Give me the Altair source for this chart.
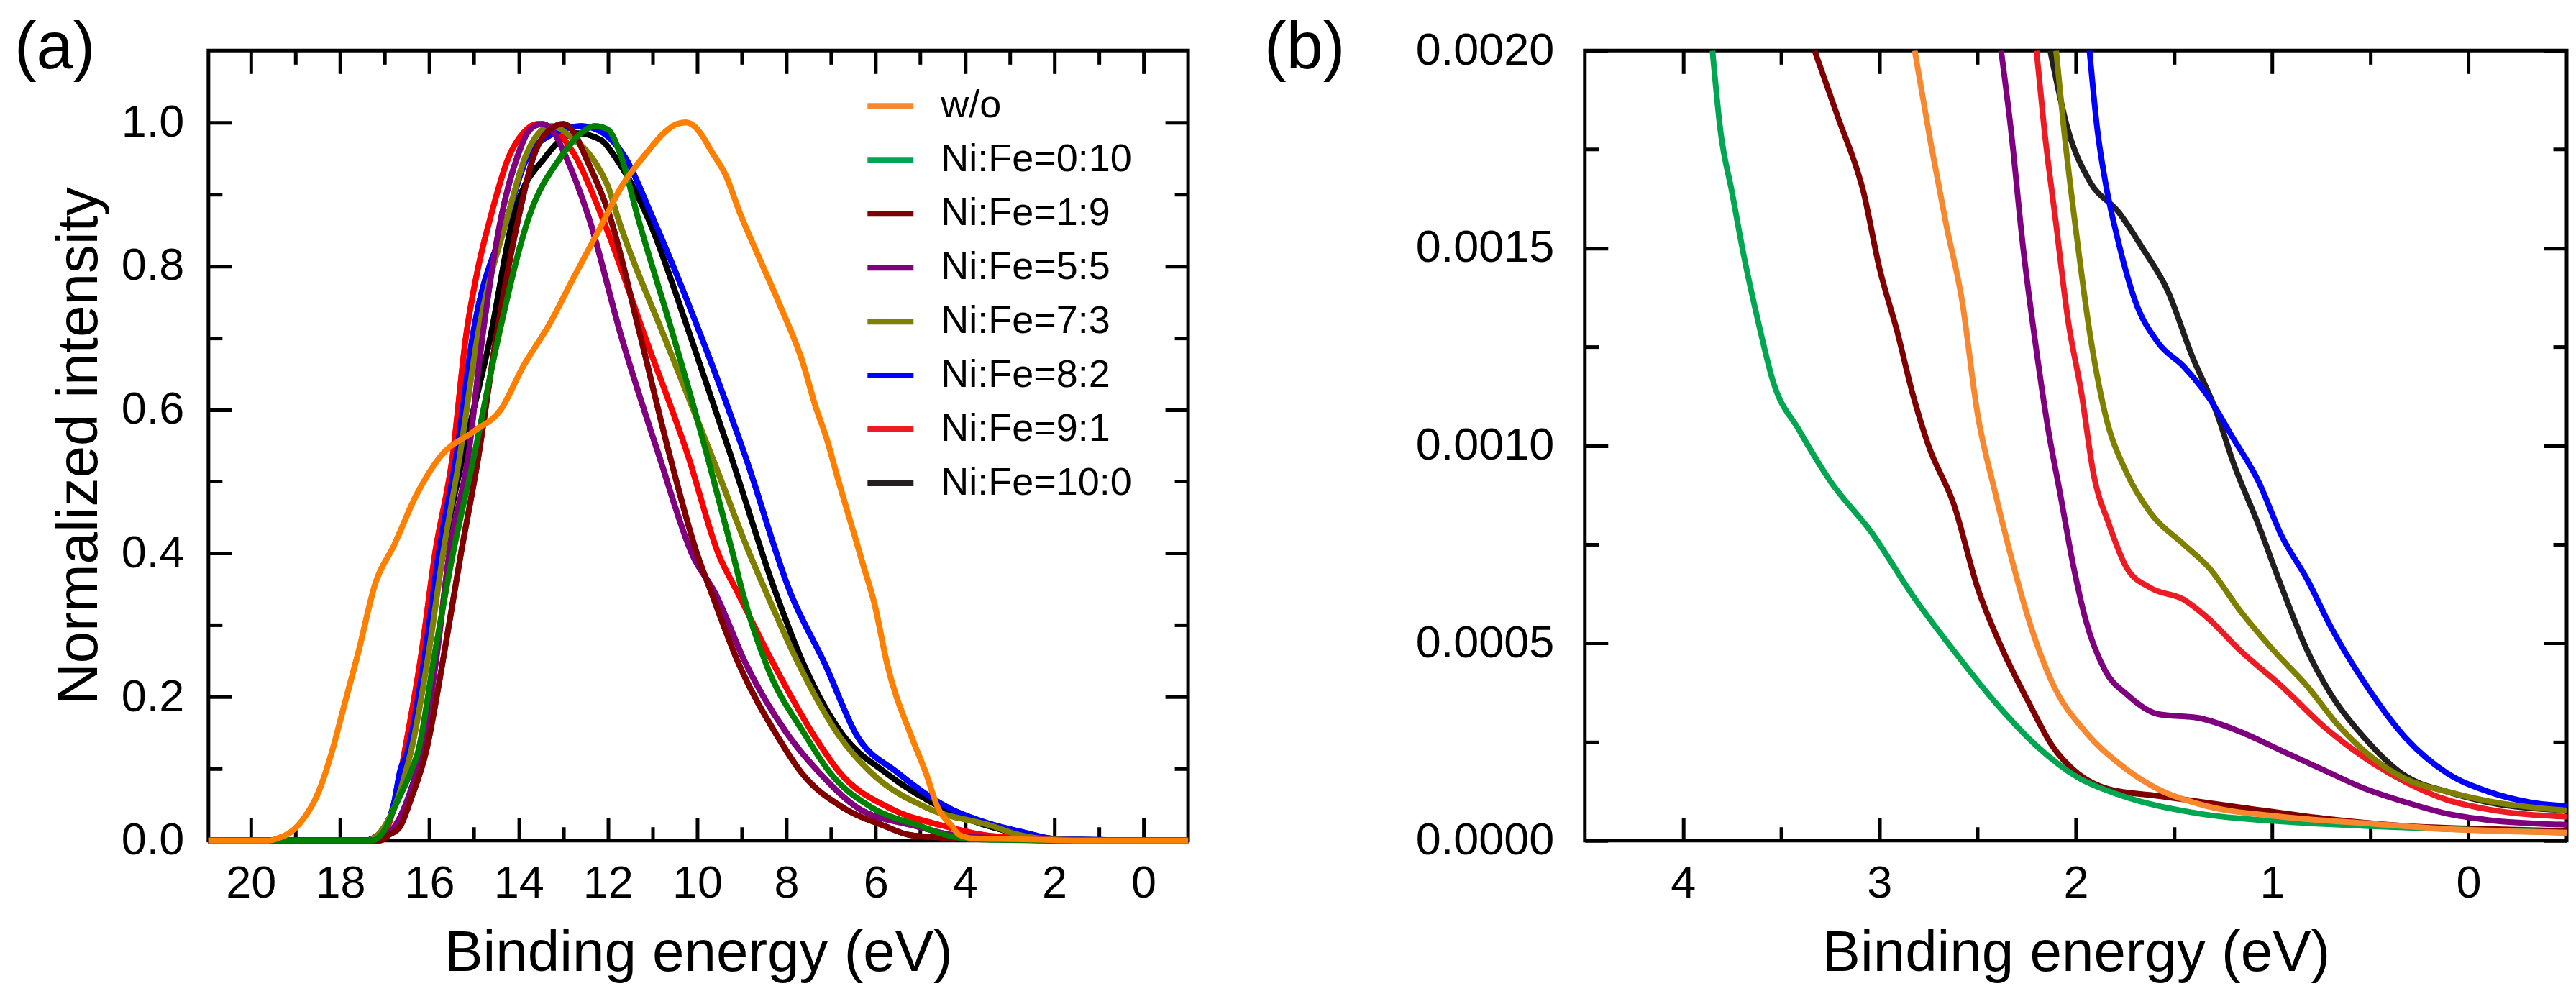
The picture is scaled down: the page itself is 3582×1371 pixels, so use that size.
import altair as alt
import pandas as pd

FONT = "Liberation Sans"

SERIES = ["w/o", "Ni:Fe=0:10", "Ni:Fe=1:9", "Ni:Fe=5:5", "Ni:Fe=7:3",
          "Ni:Fe=8:2", "Ni:Fe=9:1", "Ni:Fe=10:0"]
LINE_COLORS_A = ["#FF8000", "#008000", "#800000", "#800080", "#808000",
                 "#0000FF", "#FF0000", "#000000"]
LEGEND_COLORS = ["#F7882F", "#00A651", "#7F0000", "#7F007F", "#808000",
                 "#0000FF", "#ED1C24", "#231F20"]
DRAW_ORDER = list(reversed(SERIES))

# ---------------- panel (a): full spectra ----------------
A_WO_E = [20.95, 19.6, 19.4, 19.1, 18.8, 18.5, 18.2, 17.9, 17.6, 17.2, 16.8, 16.3, 15.75,
          15.0, 14.4, 13.9, 13.3, 12.8, 12.2, 11.7, 11.1, 10.75, 10.45, 10.25, 10.05, 9.85,
          9.73, 9.35, 9.03, 8.70, 8.17, 7.63, 7.36, 7.09, 6.83, 6.56, 6.29, 6.02, 5.74, 5.2,
          4.88, 4.6, 4.29, 4.13, 3.8, 2.82, 1.5, -1.0]
A_WO_I = [0, 0, 0.003, 0.012, 0.032, 0.065, 0.12, 0.19, 0.26, 0.36, 0.41, 0.48, 0.535,
          0.57, 0.60, 0.66, 0.72, 0.78, 0.85, 0.91, 0.96, 0.985, 0.998, 1.0, 0.994, 0.978,
          0.965, 0.925, 0.872, 0.824, 0.749, 0.665, 0.607, 0.558, 0.50, 0.443, 0.386, 0.328,
          0.245, 0.145, 0.095, 0.045, 0.02, 0.008, 0.003, 0.002, 0.0001, 0]

A_G_E = [20.95, 17.3, 17.0, 16.75, 16.4, 16.26, 15.88, 15.48, 15.0, 14.45, 13.77, 13.05,
         12.6, 12.3, 12.0, 11.7, 11.33, 10.53, 9.77, 9.19, 8.98, 8.45, 7.56, 7.03, 6.06,
         4.99, 4.45, 3.85, 3.0, 2.0, 0.5, -1.0]
A_G_I = [0, 0, 0.015, 0.05, 0.098, 0.122, 0.26, 0.397, 0.535, 0.702, 0.868, 0.952,
         0.985, 0.995, 0.99, 0.952, 0.868, 0.702, 0.535, 0.397, 0.345, 0.245, 0.145, 0.095,
         0.045, 0.02, 0.008, 0.002, 0.0008, 0.00016, 0.00004, 0]

A_DR_E = [20.95, 17.1, 16.9, 16.66, 16.4, 16.08, 15.67, 15.3, 14.9, 14.5, 14.0, 13.67,
          13.3, 12.99, 12.75, 12.5, 11.95, 11.27, 10.61, 9.99, 9.68, 9.06, 8.2, 7.67, 6.71,
          5.79, 5.26, 4.5, 3.33, 2.0, 0.5, -1.0]
A_DR_I = [0, 0, 0.008, 0.019, 0.06, 0.122, 0.26, 0.397, 0.535, 0.702, 0.868, 0.952,
          0.99, 0.998, 0.985, 0.952, 0.868, 0.702, 0.535, 0.397, 0.345, 0.245, 0.145, 0.095,
          0.045, 0.02, 0.008, 0.004, 0.002, 0.00016, 0.00004, 0]

A_P_E = [20.95, 17.2, 16.9, 16.6, 16.28, 16.18, 15.83, 15.56, 15.13, 14.81, 14.39, 14.03,
         13.75, 13.47, 13.2, 12.94, 12.43, 11.7, 10.85, 10.1, 9.6, 8.9, 7.94, 7.27, 6.39,
         5.1, 4.3, 3.5, 2.38, 1.5, 0.5, -0.5, -1.0]
A_P_I = [0, 0, 0.01, 0.04, 0.098, 0.122, 0.26, 0.397, 0.535, 0.702, 0.868, 0.952,
         0.99, 0.998, 0.985, 0.952, 0.868, 0.702, 0.535, 0.397, 0.345, 0.245, 0.145, 0.095,
         0.045, 0.02, 0.008, 0.004, 0.002, 0.0003, 0.00013, 0.00004, 0]

A_O_E = [20.95, 17.4, 17.0, 16.7, 16.52, 16.42, 16.02, 15.7, 15.32, 14.92, 14.25, 13.85,
         13.55, 13.26, 12.83, 12.24, 11.98, 11.78, 10.74, 9.67, 8.81, 8.45, 7.72, 6.81,
         6.11, 4.83, 3.38, 2.8, 2.1, 1.0, 0.0, -1.0]
A_O_I = [0, 0, 0.02, 0.06, 0.098, 0.122, 0.26, 0.397, 0.535, 0.702, 0.868, 0.952,
         0.985, 0.995, 0.98, 0.94, 0.908, 0.868, 0.702, 0.535, 0.397, 0.345, 0.245, 0.145,
         0.095, 0.045, 0.02, 0.008, 0.002, 0.0005, 0.00012, 0]

A_B_E = [20.95, 17.45, 17.1, 16.8, 16.65, 16.5, 16.1, 15.8, 15.4, 15.03, 14.25, 13.8,
         13.2, 12.6, 12.1, 11.62, 11.0, 9.91, 8.92, 7.91, 7.13, 6.41, 5.52, 4.35, 3.53,
         2.6, 2.2, 1.93, 1.0, 0.0, -1.0]
A_B_I = [0, 0, 0.01, 0.05, 0.098, 0.122, 0.26, 0.397, 0.535, 0.702, 0.868, 0.952,
         0.985, 0.995, 0.985, 0.952, 0.868, 0.702, 0.535, 0.345, 0.245, 0.145, 0.095,
         0.045, 0.025, 0.01, 0.004, 0.002, 0.0009, 0.00017, 0]

A_R_E = [20.95, 17.35, 17.0, 16.8, 16.56, 16.18, 15.88, 15.48, 15.18, 14.9, 14.63, 14.22,
         13.9, 13.58, 13.2, 12.72, 12.13, 11.17, 10.2, 9.51, 9.09, 8.28, 7.37, 6.81, 5.68,
         4.45, 3.5, 2.2, 1.0, 0.0, -1.0]
A_R_I = [0, 0, 0.012, 0.045, 0.122, 0.26, 0.397, 0.535, 0.702, 0.80, 0.868, 0.952,
         0.985, 0.998, 0.99, 0.952, 0.868, 0.702, 0.535, 0.397, 0.345, 0.245, 0.145, 0.095,
         0.045, 0.02, 0.007, 0.002, 0.0004, 0.0001, 0]

A_K_E = [20.95, 17.45, 17.1, 16.8, 16.45, 16.05, 15.7, 15.25, 14.63, 14.12, 13.4, 13.0,
         12.7, 12.14, 11.84, 11.11, 10.15, 9.24, 8.24, 7.61, 6.71, 5.79, 4.5, 3.36, 2.7,
         2.13, 1.0, 0.0, -1.0]
A_K_I = [0, 0, 0.01, 0.045, 0.12, 0.26, 0.397, 0.535, 0.702, 0.868, 0.952, 0.978,
         0.985, 0.975, 0.952, 0.868, 0.702, 0.535, 0.345, 0.245, 0.145, 0.095, 0.045,
         0.018, 0.008, 0.002, 0.0007, 0.00013, 0]

# ---------------- panel (b): low-intensity tail ----------------
B_WO_E = [2.82, 2.74, 2.66, 2.58, 2.50, 2.41, 2.33, 2.24, 2.12, 1.95, 1.78, 1.58, 1.37,
          0.95, 0.53, 0.11, -0.5]
B_WO_I = [20e-4, 17.7e-4, 15.6e-4, 13.7e-4, 10.8e-4, 8.8e-4, 7.2e-4, 5.6e-4, 4.0e-4,
          2.75e-4, 1.95e-4, 1.3e-4, 0.92e-4, 0.6e-4, 0.44e-4, 0.29e-4, 0.2e-4]

B_G_E = [3.85, 3.81, 3.75, 3.69, 3.62, 3.54, 3.41, 3.25, 3.04, 2.83, 2.62, 2.41, 2.20,
         1.99, 1.78, 1.37, 0.95, 0.53, 0.11, -0.5]
B_G_I = [20e-4, 18e-4, 16.4e-4, 14.8e-4, 13.2e-4, 11.6e-4, 10.4e-4, 9.1e-4, 7.8e-4,
         6.2e-4, 4.8e-4, 3.5e-4, 2.4e-4, 1.6e-4, 1.16e-4, 0.68e-4, 0.48e-4, 0.37e-4,
         0.29e-4, 0.2e-4]

B_DR_E = [3.33, 3.21, 3.08, 3.00, 2.91, 2.83, 2.75, 2.62, 2.50, 2.37, 2.24, 2.12, 1.99,
          1.83, 1.58, 1.16, 0.74, 0.32, -0.1, -0.5]
B_DR_I = [20e-4, 18.3e-4, 16.4e-4, 14.5e-4, 12.9e-4, 11.3e-4, 10.0e-4, 8.5e-4, 6.4e-4,
          4.8e-4, 3.5e-4, 2.4e-4, 1.7e-4, 1.3e-4, 1.13e-4, 0.84e-4, 0.56e-4, 0.37e-4,
          0.29e-4, 0.24e-4]

B_P_E = [2.38, 2.33, 2.27, 2.20, 2.14, 2.08, 2.01, 1.95, 1.85, 1.74, 1.58, 1.37, 1.16,
         0.95, 0.74, 0.53, 0.32, 0.11, -0.1, -0.5]
B_P_I = [20e-4, 18e-4, 15.1e-4, 12.4e-4, 10.4e-4, 8.8e-4, 6.9e-4, 5.6e-4, 4.3e-4,
         3.7e-4, 3.2e-4, 3.1e-4, 2.75e-4, 2.27e-4, 1.79e-4, 1.32e-4, 0.97e-4, 0.68e-4,
         0.52e-4, 0.4e-4]

B_O_E = [2.10, 2.06, 1.99, 1.93, 1.85, 1.74, 1.62, 1.45, 1.32, 1.16, 0.99, 0.82, 0.66,
         0.49, 0.32, 0.11, -0.1, -0.5]
B_O_I = [20e-4, 18e-4, 15.1e-4, 12.9e-4, 10.8e-4, 9.3e-4, 8.3e-4, 7.5e-4, 6.9e-4,
         5.8e-4, 4.8e-4, 3.9e-4, 2.9e-4, 2.1e-4, 1.56e-4, 1.24e-4, 1.0e-4, 0.76e-4]

B_B_E = [1.93, 1.89, 1.85, 1.78, 1.70, 1.58, 1.45, 1.32, 1.20, 1.07, 0.95, 0.82, 0.70,
         0.53, 0.32, 0.11, -0.1, -0.31, -0.5]
B_B_I = [20e-4, 18e-4, 16.7e-4, 15.1e-4, 13.7e-4, 12.6e-4, 12.0e-4, 11.2e-4, 10.2e-4,
         9.1e-4, 7.7e-4, 6.6e-4, 5.4e-4, 4.0e-4, 2.6e-4, 1.71e-4, 1.24e-4, 0.97e-4, 0.87e-4]

B_R_E = [2.20, 2.16, 2.10, 2.04, 1.97, 1.91, 1.83, 1.74, 1.62, 1.45, 1.32, 1.16, 0.95,
         0.74, 0.53, 0.32, 0.11, -0.1, -0.5]
B_R_I = [20e-4, 18e-4, 15.6e-4, 13.2e-4, 11.3e-4, 9.3e-4, 8.0e-4, 6.9e-4, 6.4e-4,
         6.1e-4, 5.6e-4, 4.8e-4, 3.9e-4, 2.9e-4, 2.1e-4, 1.48e-4, 1.03e-4, 0.79e-4, 0.6e-4]

B_K_E = [2.13, 2.04, 1.93, 1.78, 1.66, 1.53, 1.41, 1.28, 1.20, 1.07, 0.95, 0.82, 0.70,
         0.53, 0.32, 0.11, -0.1, -0.5]
B_K_I = [20e-4, 18e-4, 16.7e-4, 15.9e-4, 15.0e-4, 13.9e-4, 12.3e-4, 10.8e-4, 9.6e-4,
         8.0e-4, 6.4e-4, 4.8e-4, 3.7e-4, 2.6e-4, 1.63e-4, 1.24e-4, 0.97e-4, 0.76e-4]

# ticks
A_X_MAJOR = [20, 18, 16, 14, 12, 10, 8, 6, 4, 2, 0]
A_X_MINOR = [19, 17, 15, 13, 11, 9, 7, 5, 3, 1]
A_Y_MAJOR = [0.0, 0.2, 0.4, 0.6, 0.8, 1.0]
A_Y_MINOR = [0.1, 0.3, 0.5, 0.7, 0.9]
B_X_MAJOR = [4, 3, 2, 1, 0]
B_X_MINOR = [3.5, 2.5, 1.5, 0.5]
B_Y_MAJOR = [0.0, 0.0005, 0.0010, 0.0015, 0.0020]
B_Y_MINOR = [0.00025, 0.00075, 0.00125, 0.00175]

A_SERIES = {
    "w/o": (A_WO_E, A_WO_I), "Ni:Fe=0:10": (A_G_E, A_G_I), "Ni:Fe=1:9": (A_DR_E, A_DR_I),
    "Ni:Fe=5:5": (A_P_E, A_P_I), "Ni:Fe=7:3": (A_O_E, A_O_I), "Ni:Fe=8:2": (A_B_E, A_B_I),
    "Ni:Fe=9:1": (A_R_E, A_R_I), "Ni:Fe=10:0": (A_K_E, A_K_I),
}
B_SERIES = {
    "w/o": (B_WO_E, B_WO_I), "Ni:Fe=0:10": (B_G_E, B_G_I), "Ni:Fe=1:9": (B_DR_E, B_DR_I),
    "Ni:Fe=5:5": (B_P_E, B_P_I), "Ni:Fe=7:3": (B_O_E, B_O_I), "Ni:Fe=8:2": (B_B_E, B_B_I),
    "Ni:Fe=9:1": (B_R_E, B_R_I), "Ni:Fe=10:0": (B_K_E, B_K_I),
}


def to_frame(series):
    rows = []
    for name in DRAW_ORDER:
        es, ys = series[name]
        for e, y in zip(es, ys):
            rows.append({"E": e, "I": y, "series": name})
    return pd.DataFrame(rows)


DF_A = to_frame(A_SERIES)
DF_B = to_frame(B_SERIES)

LINE_W = 8
TICK_W = 5
MAJOR = 32
MINOR = 19


def tick_axis(orient, values, size):
    return alt.Axis(orient=orient, values=values, labels=False, domain=False, grid=False,
                    ticks=True, tickSize=size, tickWidth=TICK_W, tickColor="black",
                    offset=-size, title=None)


def label_axis(orient, values, fmt, pad, title, title_pad):
    return alt.Axis(orient=orient, values=values, format=fmt, ticks=False, tickSize=0,
                    domain=False, grid=False, labelFont=FONT, labelFontSize=63,
                    labelColor="black", labelPadding=pad, labelFlush=False,
                    labelOverlap=False, labelLimit=1000, title=title, titleFont=FONT,
                    titleFontSize=80, titleFontWeight="normal", titleColor="black",
                    titlePadding=title_pad, titleLimit=2000)


def panel(df, xdom, ydom, w, h, xmaj, xmin, ymaj, ymin, xfmt, yfmt, ylab_pad, ytitle,
          main_range, legend, tag, tag_x, clip):
    xs = alt.Scale(domain=xdom, nice=False, zero=False)
    ys = alt.Scale(domain=ydom, nice=False, zero=False)
    base = alt.Chart(df)

    def X(axis):
        return alt.X("E:Q", scale=xs, axis=axis)

    def Y(axis):
        return alt.Y("I:Q", scale=ys, axis=axis)

    layers = []
    if legend is not None:
        layers.append(base.mark_line(strokeWidth=LINE_W, interpolate="monotone", clip=clip).encode(
            x=X(None), y=Y(None),
            color=alt.Color("series:N", sort=SERIES,
                            scale=alt.Scale(domain=SERIES, range=LEGEND_COLORS), legend=legend)))
    layers.append(base.mark_line(strokeWidth=LINE_W, interpolate="monotone", clip=clip).encode(
        x=X(label_axis("bottom", xmaj, xfmt, 29, "Binding energy (eV)", 26)),
        y=Y(label_axis("left", ymaj, yfmt, ylab_pad, ytitle, 17)),
        color=alt.Color("series:N", sort=SERIES,
                        scale=alt.Scale(domain=SERIES, range=main_range), legend=None)))
    for (xo, yo, xv, yv, s) in [("bottom", "left", xmaj, ymaj, MAJOR),
                                ("bottom", "left", xmin, ymin, MINOR),
                                ("top", "right", xmaj, ymaj, MAJOR),
                                ("top", "right", xmin, ymin, MINOR)]:
        layers.append(base.mark_point(opacity=0, size=0).encode(
            x=X(tick_axis(xo, xv, s)), y=Y(tick_axis(yo, yv, s))))
    layers.append(alt.Chart(pd.DataFrame({"tag": [tag]})).mark_text(
        align="left", baseline="alphabetic", font=FONT, fontSize=92, color="black").encode(
        text="tag:N", x=alt.value(tag_x), y=alt.value(25)))
    return alt.layer(*layers).properties(width=w, height=h).resolve_scale(
        color="independent").resolve_axis(x="independent", y="independent")


legend_a = alt.Legend(orient="none", legendX=913, legendY=41, title=None, direction="vertical",
                      symbolType="stroke", symbolSize=4096, symbolStrokeWidth=8,
                      labelFont=FONT, labelFontSize=54, labelColor="black", labelLimit=1000,
                      rowPadding=12, labelOffset=34, padding=0)

pa = panel(DF_A, [20.95, -1.0], [0, 1.1], 1363, 1099, A_X_MAJOR, A_X_MINOR, A_Y_MAJOR,
           A_Y_MINOR, "d", ".1f", 34, "Normalized intensity", LINE_COLORS_A, legend_a,
           "(a)", -270, False)
pb = panel(DF_B, [4.5, -0.5], [0, 0.002], 1366, 1099, B_X_MAJOR, B_X_MINOR, B_Y_MAJOR,
           B_Y_MINOR, "d", ".4f", 43, None, LEGEND_COLORS, None, "(b)", -446, True)

chart = alt.hconcat(pa, pb, spacing=552, bounds="flush").resolve_scale(
    color="independent").properties(
    padding={"left": 9, "top": 10, "right": 0, "bottom": 0}).configure_view(
    stroke="black", strokeWidth=5)

chart.save("out.html", embed_options={"renderer": "svg", "actions": False})
